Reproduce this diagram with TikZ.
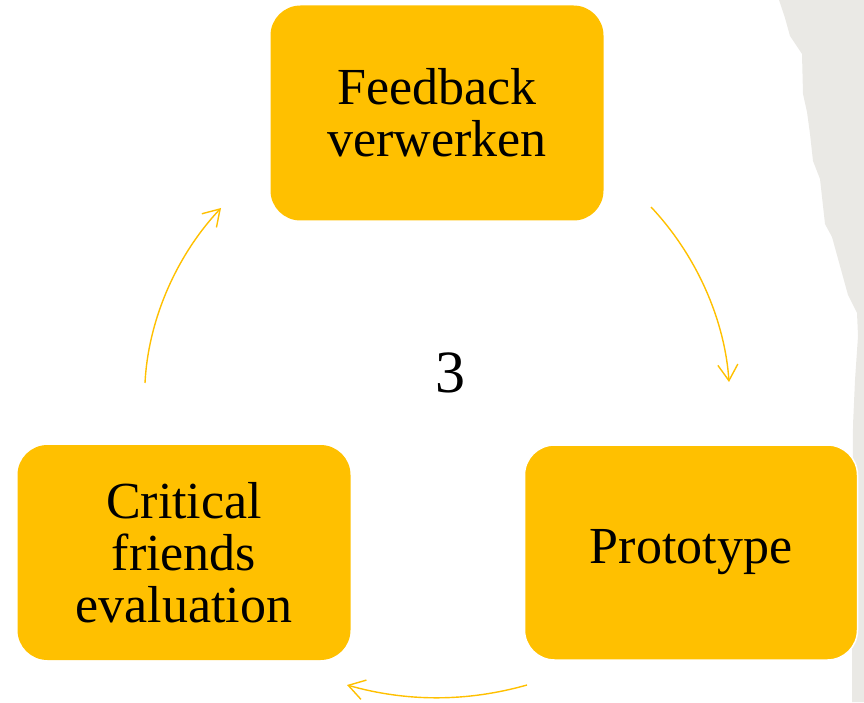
\documentclass[tikz,border=0pt]{standalone}
\usepackage{fontspec}
\setmainfont{Liberation Serif}
\usetikzlibrary{arrows.meta}
\definecolor{gold}{RGB}{255,192,0}
\definecolor{paper}{RGB}{234,233,229}

\begin{document}
\begin{tikzpicture}
		[x=1pt,y=1pt,
		b/.style= {font=\fontsize{52}{52}\selectfont,align=center,minimum width=333pt,minimum height=215pt,rounded corners=30pt,fill=gold},
		c/.style= {draw=gold,line width=1.4pt,-{Straight Barb[length=16pt,width=20pt]}}]

		\useasboundingbox (0,0) rectangle (864,702);

		% torn paper at the right
		\fill[paper] (779,702) -- (785,684) -- (790,666) -- (802,648) -- (803,608) -- (807,590)
			-- (810,568) -- (813,541) -- (820,523) -- (825,478) -- (832,465) -- (848,407)
			-- (857,389) -- (858,366) -- (855,322) -- (853,277) -- (852,0) -- (864,0) -- (864,702) -- cycle;

		\node[b] (fb) at (437,589) {Feedback\\verwerken};

		\node[b,draw=white,line width=1.5pt] (pt) at (691,149.5) {Prototype};

		\node[b] (cf) at (184,149.5) {Critical\\friends\\evaluation};

		\node[font=\fontsize{60}{60}\selectfont] (nr) at (450,329) {3};

		\coordinate (a1) at (145,319);
		\coordinate (a2) at (221,494);
		\coordinate (b1) at (651,495);
		\coordinate (b2) at (729,320);
		\coordinate (c1) at (527,17);
		\coordinate (c2) at (347,17);

		\draw[c] (a1) .. controls (148,380) and (175,445) .. (a2);
		\draw[c] (b1) .. controls (698,445) and (725,380) .. (b2);
		\draw[c] (c1) .. controls (467,0) and (407,0) .. (c2);

	\end{tikzpicture}
\end{document}
